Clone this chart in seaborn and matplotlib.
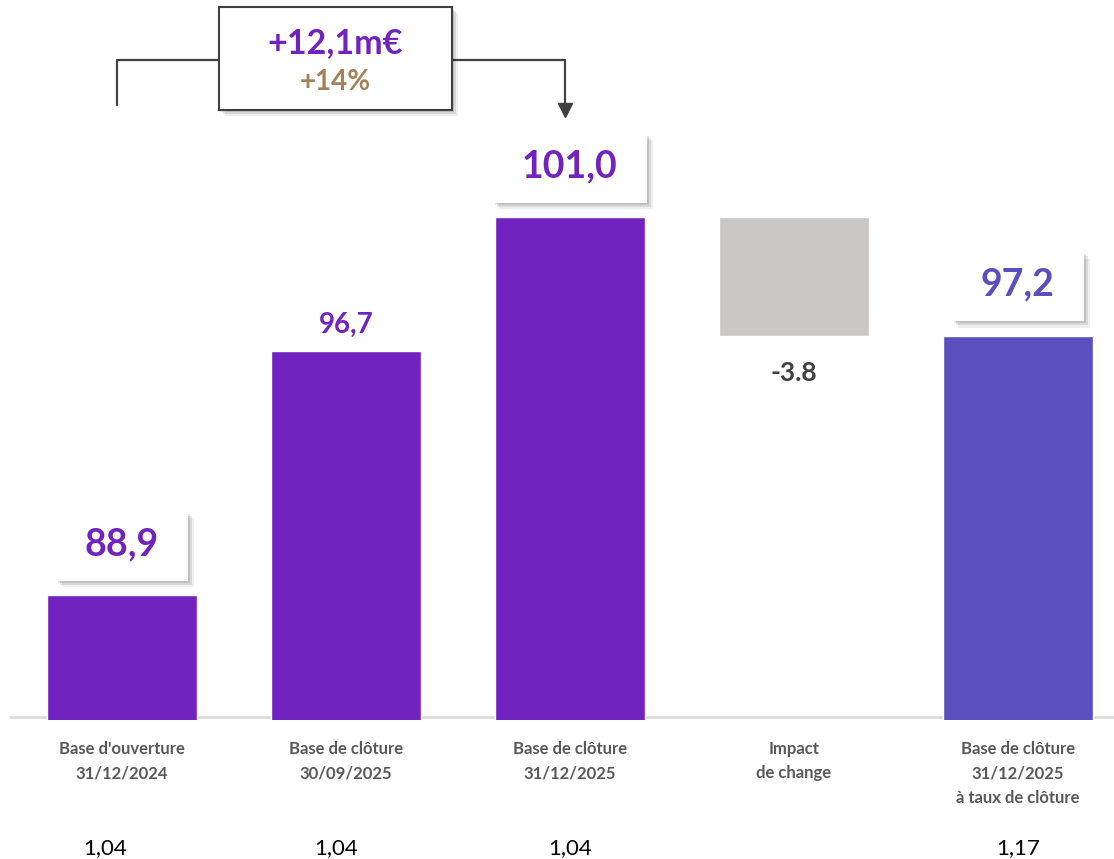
import matplotlib
matplotlib.use('Agg')
import matplotlib.pyplot as plt
import matplotlib.patheffects as pe
from matplotlib.patches import Rectangle
from matplotlib.transforms import IdentityTransform, blended_transform_factory
import seaborn as sns
import pandas as pd

# data
categories = ["Base d'ouverture\n31/12/2024", "Base de clôture\n30/09/2025",
              "Base de clôture\n31/12/2025", "Impact\nde change",
              "Base de clôture\n31/12/2025\nà taux de clôture"]
totals = [88.9, 96.7, 101.0, None, 97.2]
fx_impact = -3.8
value_labels = ["88,9", "96,7", "101,0", "-3.8", "97,2"]
boxed = [True, False, True, False, True]
fx_rates = ["1,04", "1,04", "1,04", "", "1,17"]
growth_label = "+12,1m€"
growth_pct = "+14%"

PURPLE = '#7222BE'
BLUE = '#5B4FBF'
GREY = '#C9C8C6'
DARK = '#404040'
bar_colors = [PURPLE, PURPLE, PURPLE, GREY, BLUE]

sns.set_theme(style='white')
plt.rcParams['font.family'] = ['Lato', 'DejaVu Sans']

fig = plt.figure(figsize=(11.14, 8.59), dpi=100)
ax = fig.add_axes([10 / 1114, 139 / 859, 1104 / 1114, 720 / 859])

df = pd.DataFrame({'cat': categories, 'val': totals, 'color': bar_colors}).dropna()
sns.barplot(data=df, x='cat', y='val', hue='cat', order=categories,
            palette=dict(zip(df['cat'], df['color'])), width=0.67,
            legend=False, saturation=1, ax=ax, zorder=2)

# floating bar for the FX impact
prev = totals[2]
ax.bar(3, -fx_impact, bottom=prev + fx_impact, width=0.67, color=GREY, zorder=2)

base = 85.0
ax.set_xlim(-0.5, 4.43)
ax.set_ylim(84.9, 107.95)
ax.axhline(base, color='#D9D9D9', lw=1.8, zorder=1)
for s in ax.spines.values():
    s.set_visible(False)
ax.set_yticks([])
ax.set_xlabel('')
ax.set_ylabel('')
ax.set_xticks(range(len(categories)))
ax.set_xticklabels(categories, fontsize=12, fontweight='bold', color='#595959',
                   linespacing=1.65)
ax.tick_params(axis='x', length=0, pad=15)

shadow = [pe.SimplePatchShadow(offset=(1.5, -1.5), shadow_rgbFace='k', alpha=0.12),
          pe.SimplePatchShadow(offset=(3, -3), shadow_rgbFace='k', alpha=0.1),
          pe.SimplePatchShadow(offset=(4.5, -4.5), shadow_rgbFace='k', alpha=0.07),
          pe.Normal()]

# value labels
label_texts = []
for i, lab in enumerate(value_labels):
    if i == 3:
        ax.annotate(lab, xy=(3, prev + fx_impact), xytext=(0, -37),
                    textcoords='offset pixels', ha='center', va='center',
                    fontsize=19, fontweight='bold', color=DARK, zorder=5)
        continue
    col = BLUE if i == 4 else PURPLE
    if boxed[i]:
        t = ax.annotate(lab, xy=(i, totals[i]), xytext=(0, 51),
                        textcoords='offset pixels', ha='center', va='center',
                        fontsize=27, fontweight='bold', color=col, zorder=5)
        label_texts.append(t)
    else:
        ax.annotate(lab, xy=(i, totals[i]), xytext=(0, 27),
                    textcoords='offset pixels', ha='center', va='center',
                    fontsize=20, fontweight='bold', color=col, zorder=5)

fig.canvas.draw()
renderer = fig.canvas.get_renderer()
for t in label_texts:
    bb = t.get_window_extent(renderer)
    cx = (bb.x0 + bb.x1) / 2
    cy = (bb.y0 + bb.y1) / 2 - 2
    w = bb.width + 58
    h = 69
    r = Rectangle((cx - w / 2, cy - h / 2), w, h, transform=IdentityTransform(),
                  facecolor='white', edgecolor='none', zorder=4, clip_on=False,
                  path_effects=shadow)
    ax.add_patch(r)

# growth bracket
y_br = 106.03
ax.plot([-0.022, -0.022, 0.433], [104.59, y_br, y_br], color=DARK, lw=1.6, zorder=3)
ax.plot([1.473, 1.98, 1.98], [y_br, y_br, 104.55], color=DARK, lw=1.6, zorder=3)
ax.plot([1.98], [104.42], marker='v', ms=10, color=DARK, zorder=3)
ax.add_patch(Rectangle((0.433, 104.43), 1.04, 3.29, facecolor='white',
                       edgecolor=DARK, lw=1.5, zorder=4, clip_on=False,
                       path_effects=shadow))
ax.text(0.951, 106.57, growth_label, ha='center', va='center', fontsize=24.5,
        fontweight='bold', color=PURPLE, zorder=5)
ax.text(0.951, 105.33, growth_pct, ha='center', va='center', fontsize=20,
        fontweight='bold', color='#A58159', zorder=5)

# FX rates row
rate_shift = [-0.075, -0.045, 0.0, 0.0, 0.0]
trans = blended_transform_factory(ax.transData, ax.transAxes)
for i, rate in enumerate(fx_rates):
    if rate:
        ax.text(i + rate_shift[i], -0.178, rate, transform=trans, ha='center',
                va='center', fontsize=16, color='black')

ax.set_xlim(-0.5, 4.43)
ax.set_ylim(84.9, 107.95)
fig.savefig('out.png', dpi=100)
